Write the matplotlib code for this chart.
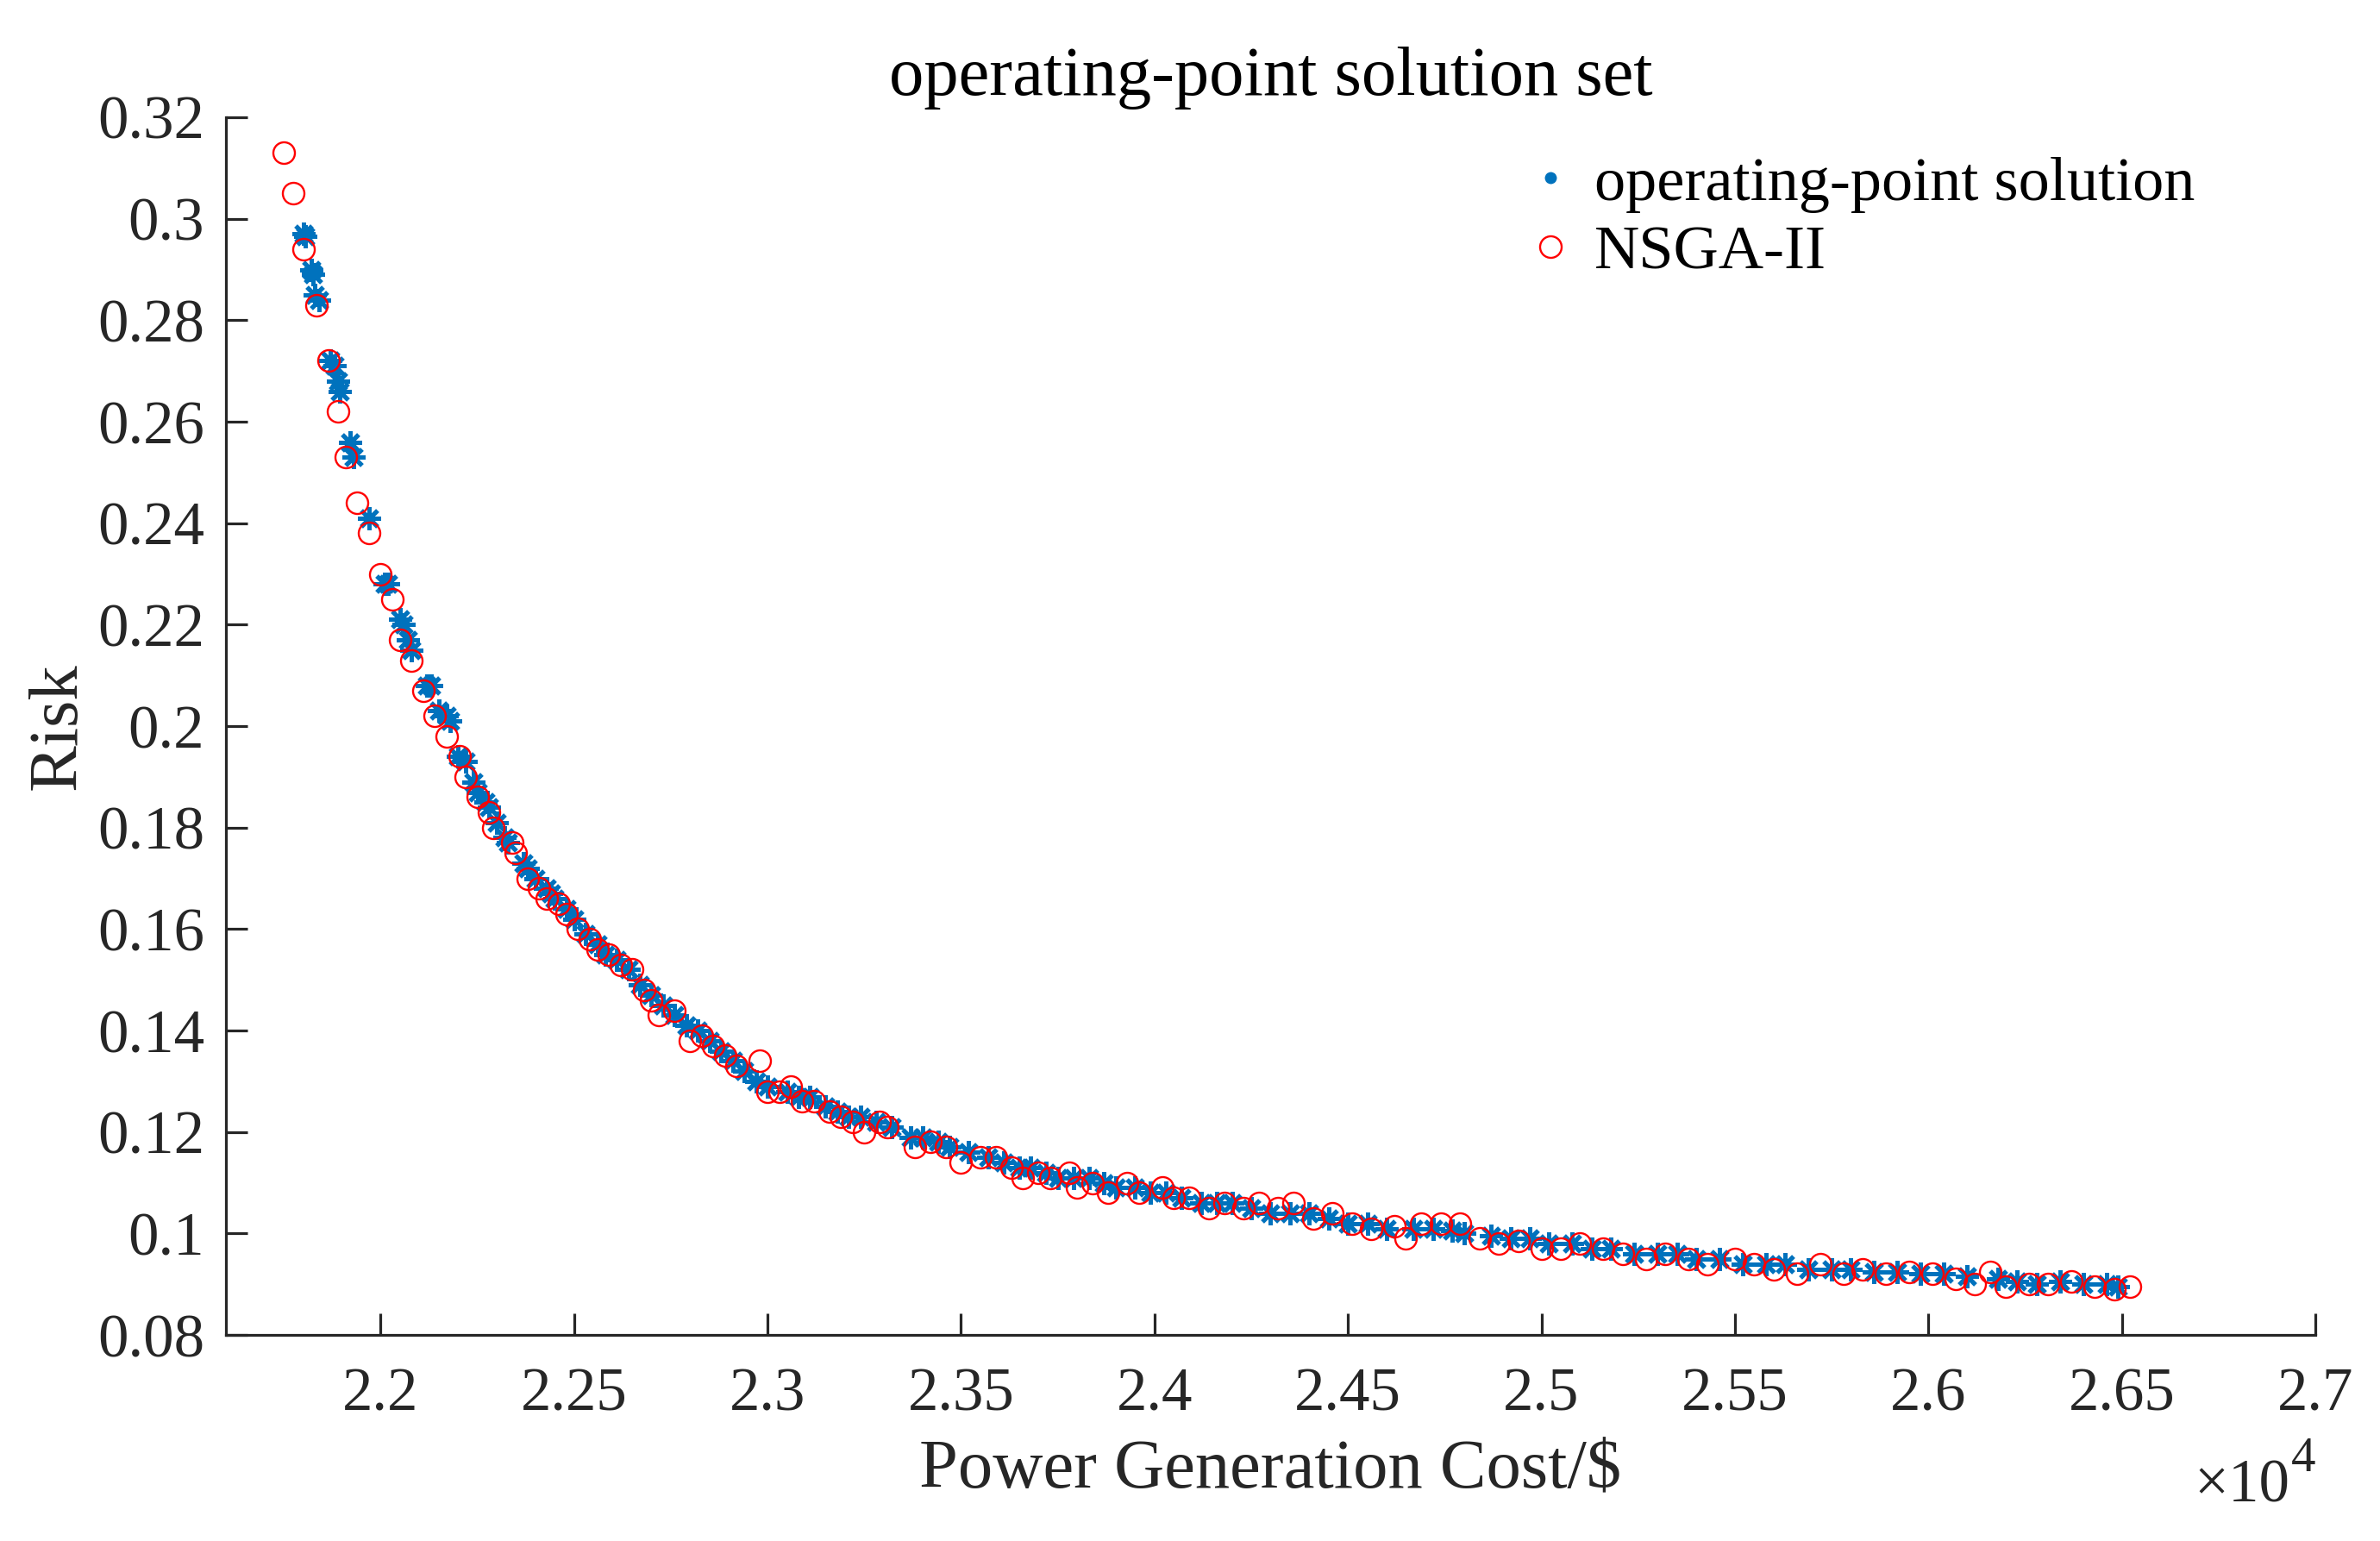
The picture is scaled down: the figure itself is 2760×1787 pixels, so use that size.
import matplotlib
matplotlib.use("Agg")
import matplotlib.pyplot as plt
from matplotlib.lines import Line2D
from matplotlib.ticker import FuncFormatter

plt.rcParams['font.family'] = ['Liberation Serif', 'DejaVu Serif']

# operating-point solution (blue)
op_cost = [21800, 21805, 21820, 21825, 21830, 21840, 21870, 21880, 21890, 21895,
           21920, 21930, 21970, 22010, 22020, 22050, 22060, 22070, 22080, 22120,
           22130, 22150, 22170, 22180, 22200, 22220, 22240, 22250, 22270, 22280,
           22300, 22320, 22330, 22370, 22380, 22400, 22430, 22440, 22450, 22480,
           22500, 22530, 22560, 22580, 22610, 22640, 22670, 22700, 22730, 22760,
           22790, 22820, 22850, 22880, 22910, 22940, 22970, 23000, 23050, 23080,
           23110, 23150, 23180, 23210, 23240, 23280, 23320, 23370, 23400, 23440,
           23470, 23520, 23570, 23610, 23650, 23680, 23720, 23750, 23790, 23830,
           23870, 23900, 23950, 23990, 24030, 24070, 24120, 24160, 24200, 24250,
           24300, 24350, 24400, 24450, 24500, 24550, 24600, 24670, 24720, 24770,
           24800, 24870, 24920, 24970, 25020, 25080, 25130, 25180, 25240, 25300,
           25350, 25400, 25460, 25520, 25580, 25630, 25690, 25750, 25800, 25860,
           25920, 25980, 26040, 26100, 26180, 26230, 26280, 26340, 26400, 26460,
           26490]
op_risk = [0.297, 0.2965, 0.290, 0.289, 0.285, 0.284, 0.272, 0.271, 0.268, 0.266,
           0.256, 0.253, 0.241, 0.228, 0.228, 0.221, 0.220, 0.217, 0.215, 0.208,
           0.208, 0.203, 0.202, 0.201, 0.194, 0.193, 0.189, 0.187, 0.185, 0.184,
           0.181, 0.178, 0.177, 0.173, 0.172, 0.170, 0.168, 0.167, 0.166, 0.164,
           0.162, 0.159, 0.157, 0.155, 0.154, 0.152, 0.149, 0.147, 0.145, 0.143,
           0.141, 0.140, 0.138, 0.136, 0.134, 0.132, 0.130, 0.129, 0.128, 0.127,
           0.127, 0.125, 0.124, 0.123, 0.123, 0.122, 0.121, 0.119, 0.119, 0.118,
           0.117, 0.116, 0.115, 0.114, 0.113, 0.113, 0.112, 0.111, 0.111, 0.111,
           0.110, 0.109, 0.109, 0.108, 0.108, 0.107, 0.106, 0.106, 0.106, 0.105,
           0.104, 0.104, 0.104, 0.103, 0.102, 0.102, 0.101, 0.101, 0.101, 0.1005,
           0.100, 0.0995, 0.099, 0.099, 0.098, 0.098, 0.097, 0.097, 0.096, 0.096,
           0.096, 0.095, 0.095, 0.094, 0.094, 0.094, 0.093, 0.093, 0.093, 0.0925,
           0.0925, 0.092, 0.092, 0.0915, 0.091, 0.0905, 0.090, 0.0905, 0.090, 0.090,
           0.0895]

# NSGA-II (red circles)
ns_cost = [21750, 21775, 21800, 21835, 21865, 21890, 21910, 21940, 21970, 22000,
           22030, 22050, 22080, 22110, 22140, 22170, 22205, 22220, 22250, 22280,
           22290, 22340, 22350, 22380, 22410, 22430, 22460, 22480, 22510, 22540,
           22560, 22590, 22620, 22650, 22680, 22700, 22720, 22760, 22800, 22830,
           22860, 22890, 22920, 22980, 23000, 23030, 23060, 23090, 23120, 23160,
           23190, 23220, 23250, 23290, 23310, 23380, 23420, 23460, 23500, 23550,
           23590, 23630, 23660, 23700, 23730, 23780, 23800, 23840, 23880, 23930,
           23960, 24020, 24050, 24090, 24140, 24180, 24230, 24270, 24320, 24360,
           24410, 24460, 24510, 24560, 24620, 24650, 24690, 24740, 24790, 24840,
           24890, 24940, 25000, 25050, 25100, 25160, 25210, 25270, 25320, 25380,
           25430, 25500, 25550, 25600, 25660, 25720, 25780, 25830, 25890, 25950,
           26010, 26070, 26120, 26160, 26200, 26260, 26310, 26370, 26430, 26480,
           26520]
ns_risk = [0.313, 0.305, 0.294, 0.283, 0.272, 0.262, 0.253, 0.244, 0.238, 0.230,
           0.225, 0.217, 0.213, 0.207, 0.202, 0.198, 0.194, 0.190, 0.186, 0.183,
           0.180, 0.177, 0.175, 0.170, 0.168, 0.166, 0.165, 0.163, 0.160, 0.158,
           0.156, 0.155, 0.153, 0.152, 0.148, 0.146, 0.143, 0.144, 0.138, 0.139,
           0.137, 0.135, 0.133, 0.134, 0.128, 0.128, 0.129, 0.126, 0.126, 0.124,
           0.123, 0.122, 0.120, 0.122, 0.121, 0.117, 0.118, 0.117, 0.114, 0.115,
           0.115, 0.113, 0.111, 0.112, 0.111, 0.112, 0.109, 0.110, 0.108, 0.110,
           0.108, 0.109, 0.107, 0.107, 0.105, 0.106, 0.105, 0.106, 0.105, 0.106,
           0.103, 0.104, 0.102, 0.101, 0.1015, 0.099, 0.102, 0.102, 0.102, 0.099,
           0.098, 0.0985, 0.097, 0.097, 0.098, 0.097, 0.096, 0.095, 0.096, 0.095,
           0.094, 0.095, 0.094, 0.093, 0.092, 0.094, 0.092, 0.093, 0.092, 0.0925,
           0.092, 0.091, 0.090, 0.0925, 0.0895, 0.090, 0.090, 0.0905, 0.0895, 0.089,
           0.0895]

x_ticks = [22000, 22500, 23000, 23500, 24000, 24500, 25000, 25500, 26000, 26500, 27000]
y_ticks = [0.08, 0.10, 0.12, 0.14, 0.16, 0.18, 0.20, 0.22, 0.24, 0.26, 0.28, 0.30, 0.32]

blue = '#0072BD'
red = '#FF0000'
dark = '#262626'
W, H = 2760, 1787

fig = plt.figure(figsize=(27.6, 17.87), dpi=100)
ax = fig.add_axes([0.0949, 0.1337, 0.8779, 0.7902])

ax.plot(op_cost, op_risk, linestyle='none', marker=(8, 2, 0), markersize=19,
        markeredgewidth=3.6, color=blue)
ax.plot(ns_cost, ns_risk, linestyle='none', marker='o', markersize=18,
        markerfacecolor='none', markeredgewidth=1.7, markeredgecolor=red)

ax.set_xlim(21600, 27000)
ax.set_ylim(0.08, 0.32)
ax.set_xticks(x_ticks)
ax.set_yticks(y_ticks)
ax.xaxis.set_major_formatter(FuncFormatter(lambda v, p: f'{v / 1e4:g}'))
ax.yaxis.set_major_formatter(FuncFormatter(lambda v, p: f'{round(v, 2):g}'))

for s in ['top', 'right']:
    ax.spines[s].set_visible(False)
for s in ['left', 'bottom']:
    ax.spines[s].set_linewidth(2.3)
    ax.spines[s].set_color(dark)
ax.tick_params(direction='in', length=18, width=2.3, color=dark,
               labelsize=51, labelcolor=dark)
ax.tick_params(axis='x', pad=27)
ax.tick_params(axis='y', pad=18)

ax.set_title('operating-point solution set', fontsize=58, pad=19)
ax.set_xlabel('Power Generation Cost/$', fontsize=58, color=dark, va='baseline')
ax.set_ylabel('Risk', fontsize=58, color=dark, va='baseline')
ax.xaxis.set_label_coords(0.5, -0.1254)
ax.yaxis.set_label_coords((88 - 262) / 2423, 0.5)

# x-axis multiplier, MATLAB style
fig.text(2655 / W, 1 - 1741 / H, '\u00d710', fontsize=51, ha='right',
         va='baseline', color=dark)
fig.text(2685 / W, 1 - 1706 / H, '4', fontsize=41, ha='right',
         va='baseline', color=dark)

handles = [Line2D([], [], linestyle='none', marker='.', markersize=18, color=blue),
           Line2D([], [], linestyle='none', marker='o', markersize=18,
                  markerfacecolor='none', markeredgewidth=1.7, markeredgecolor=red)]
fig.legend(handles, ['operating-point solution', 'NSGA-II'], loc='upper left',
           bbox_to_anchor=(0.641, 0.8987), frameon=False, fontsize=52,
           borderpad=0, borderaxespad=0, handlelength=0.8, handletextpad=0.3,
           labelspacing=0.2)

fig.savefig('out.png', dpi=100)
